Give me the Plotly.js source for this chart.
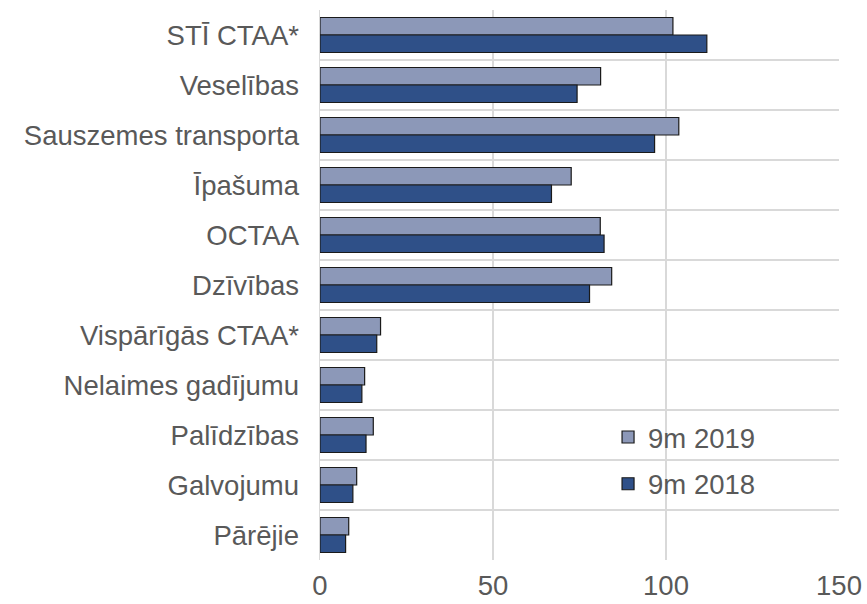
<!DOCTYPE html>
<html>
<head>
<meta charset="utf-8">
<script src="https://cdn.plot.ly/plotly-3.0.1.min.js"></script>
<style>html,body{margin:0;padding:0;background:#fff;}#chart{width:867px;height:604px;}</style>
</head>
<body>
<div id="chart"></div>
<script>
const categories = ["STĪ CTAA*", "Veselības", "Sauszemes transporta", "Īpašuma", "OCTAA", "Dzīvības", "Vispārīgās CTAA*", "Nelaimes gadījumu", "Palīdzības", "Galvojumu", "Pārējie"];
const values2019 = [102.0, 81.1, 103.7, 72.6, 81.0, 84.3, 17.5, 12.9, 15.4, 10.6, 8.3];
const values2018 = [111.8, 74.3, 96.7, 66.9, 82.1, 77.9, 16.4, 12.1, 13.3, 9.5, 7.4];
const seriesNames = ["9m 2019", "9m 2018"];
const tickVals = [0, 50, 100, 150];

const font = {family: "Liberation Sans, Arial, sans-serif", size: 27.5, color: "#595959"};

const traces = [
  {type: "bar", orientation: "h", name: seriesNames[0], y: categories, x: values2019,
   marker: {color: "#8C98B8", line: {color: "#1a1a1a", width: 1.2}}, legendgroup: "a"},
  {type: "bar", orientation: "h", name: seriesNames[1], y: categories, x: values2018,
   marker: {color: "#2F5088", line: {color: "#1a1a1a", width: 1.2}}, legendgroup: "b"}
];

const layout = {
  width: 867, height: 604,
  margin: {l: 320, r: 28, t: 10, b: 44},
  paper_bgcolor: "#fff", plot_bgcolor: "#fff",
  font: font,
  barmode: "group", bargap: 0.3, bargroupgap: 0,
  showlegend: true,
  legend: {x: 0.555, y: 0.268, xanchor: "left", yanchor: "top", bgcolor: "rgba(0,0,0,0)",
           font: font, traceorder: "grouped", tracegroupgap: 8, itemwidth: 30},
  xaxis: {range: [0, 150], tickvals: tickVals, ticktext: tickVals.map(String),
          showgrid: true, gridcolor: "#D9D9D9", gridwidth: 1.5, zeroline: false,
          showline: false, ticks: "", ticklabelstandoff: 6, tickfont: font, fixedrange: true},
  yaxis: {type: "category", autorange: "reversed", tickson: "boundaries",
          showgrid: true, gridcolor: "#D9D9D9", gridwidth: 1.5,
          showline: true, linecolor: "#D9D9D9", linewidth: 1.5, mirror: false,
          ticks: "", ticklabelstandoff: 14, tickfont: font, fixedrange: true}
};

Plotly.newPlot("chart", traces, layout, {displayModeBar: false, staticPlot: true});
</script>
</body>
</html>
